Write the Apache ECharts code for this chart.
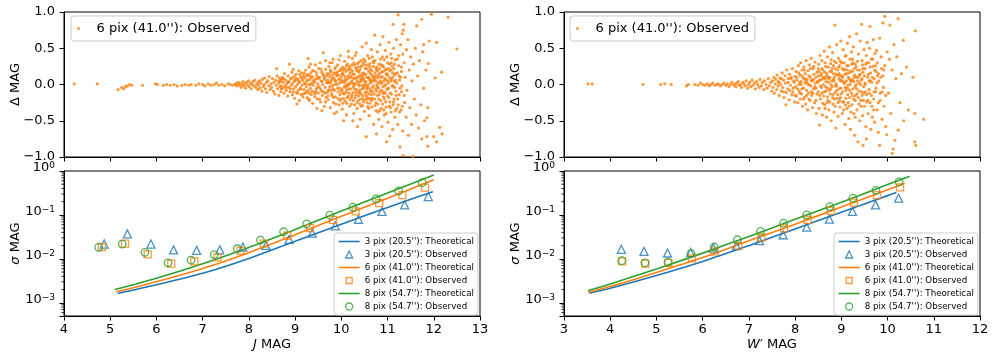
<!DOCTYPE html>
<html>
<head>
<meta charset="utf-8">
<script src="https://cdn.jsdelivr.net/npm/echarts@6/dist/echarts.min.js"></script>
<style>
  html, body { margin: 0; padding: 0; background: #fff; }
  #chart { width: 996px; height: 362px; }
</style>
</head>
<body>
<div id="chart"></div>
<script>
// ---- data ----
const jTicks = [4, 5, 6, 7, 8, 9, 10, 11, 12, 13]
const wTicks = [3, 4, 5, 6, 7, 8, 9, 10, 11, 12]
const deltaTicks = [-1.0, -0.5, 0.0, 0.5, 1.0]
const sigmaRange = [5e-4, 1]
const logMinorTicks = [6e-4, 7e-4, 8e-4, 9e-4,
  2e-3, 3e-3, 4e-3, 5e-3, 6e-3, 7e-3, 8e-3, 9e-3,
  2e-2, 3e-2, 4e-2, 5e-2, 6e-2, 7e-2, 8e-2, 9e-2,
  2e-1, 3e-1, 4e-1, 5e-1, 6e-1, 7e-1, 8e-1, 9e-1]

const apertures = ["3 pix (20.5'')", "6 pix (41.0'')", "8 pix (54.7'')"]

// J band: theoretical curves [mag, sigma]
const jTheo3 = [[5.16, 0.00162], [6, 0.00257], [7, 0.00468], [8, 0.0102], [9, 0.0251], [10, 0.0617], [11, 0.148], [11.98, 0.339]]
const jTheo6 = [[5.13, 0.00178], [6, 0.00302], [7, 0.00603], [8, 0.0138], [9, 0.0355], [10, 0.0933], [11, 0.24], [12, 0.631]]
const jTheo8 = [[5.10, 0.0020], [6, 0.00363], [7, 0.00776], [8, 0.0182], [9, 0.0468], [10, 0.123], [11, 0.316], [12, 0.813]]
// J band: observed scatter per magnitude bin
const jObs3 = [[4.87, 0.0217], [5.37, 0.037], [5.88, 0.0217], [6.37, 0.016], [6.87, 0.0156], [7.37, 0.016], [7.87, 0.0186], [8.37, 0.0203], [8.87, 0.0277], [9.37, 0.0386], [9.87, 0.0566], [10.37, 0.0797], [10.88, 0.12], [11.37, 0.169], [11.88, 0.262]]
const jObs6 = [[4.82, 0.0186], [5.32, 0.0221], [5.81, 0.0127], [6.32, 0.0078], [6.82, 0.0088], [7.32, 0.0108], [7.82, 0.0153], [8.32, 0.0221], [8.83, 0.0336], [9.32, 0.050], [9.82, 0.0775], [10.31, 0.12], [10.82, 0.185], [11.32, 0.281], [11.81, 0.419]]
const jObs8 = [[4.75, 0.0183], [5.26, 0.0217], [5.75, 0.0141], [6.25, 0.0081], [6.75, 0.0094], [7.25, 0.0125], [7.75, 0.017], [8.25, 0.0268], [8.75, 0.0414], [9.25, 0.0628], [9.75, 0.0988], [10.25, 0.15], [10.75, 0.232], [11.24, 0.352], [11.75, 0.543]]

// W' band
const wTheo3 = [[3.55, 0.00166], [4, 0.00214], [5, 0.00417], [6, 0.0087], [7, 0.020], [8, 0.0479], [9, 0.115], [10, 0.275], [10.19, 0.324]]
const wTheo6 = [[3.52, 0.00174], [4, 0.00234], [5, 0.0049], [6, 0.0107], [7, 0.0257], [8, 0.0617], [9, 0.151], [10, 0.372], [10.37, 0.525]]
const wTheo8 = [[3.52, 0.00191], [4, 0.00269], [5, 0.00589], [6, 0.0135], [7, 0.0324], [8, 0.0794], [9, 0.195], [10, 0.490], [10.48, 0.759]]
const wObs3 = [[4.24, 0.0165], [4.73, 0.0148], [5.24, 0.0136], [5.74, 0.014], [6.23, 0.0176], [6.73, 0.0199], [7.23, 0.0259], [7.74, 0.0354], [8.25, 0.0528], [8.74, 0.08], [9.24, 0.12], [9.74, 0.169], [10.24, 0.24]]
const wObs6 = [[4.26, 0.0088], [4.76, 0.0078], [5.26, 0.0081], [5.77, 0.0103], [6.26, 0.0148], [6.77, 0.0199], [7.27, 0.0308], [7.76, 0.0492], [8.27, 0.0774], [8.77, 0.124], [9.27, 0.191], [9.77, 0.281], [10.27, 0.426]]
const wObs8 = [[4.25, 0.0091], [4.75, 0.0081], [5.25, 0.0083], [5.75, 0.0131], [6.25, 0.0186], [6.75, 0.0272], [7.25, 0.042], [7.75, 0.065], [8.25, 0.1], [8.75, 0.155], [9.25, 0.24], [9.75, 0.364], [10.25, 0.563]]

// Delta MAG of single stars, 6 pix aperture, J band [mag, delta]
const jDelta = [
  [4.22, 0.01], [4.72, 0.01], [5.17, -0.07], [5.25, -0.04], [5.29, -0.06], [5.33, -0.03], [5.37, -0.02], [5.42, 0.00], [5.47, -0.01], [5.7, -0.01],
  [5.98, 0.01], [6.02, 0.0], [6.15, -0.01], [6.22, 0.0], [6.3, -0.01], [6.38, 0.0], [6.45, -0.02], [6.55, -0.01], [6.62, 0.0], [6.7, -0.01],
  [6.75, 0.0], [6.85, -0.01], [6.92, 0.01], [7.0, 0.0], [7.05, -0.02], [7.12, 0.01], [7.18, -0.01], [7.25, 0.0], [7.3, 0.02], [7.35, -0.01],
  [7.42, 0.0], [7.48, -0.02], [7.55, 0.01], [7.6, 0.0], [7.65, -0.01], [7.7, 0.0],
  [7.72, 0.01], [7.74, -0.02], [7.76, 0.03], [7.79, -0.01], [7.8, 0.02], [7.83, -0.04], [7.85, 0.0], [7.87, 0.04], [7.89, -0.02], [7.91, 0.01],
  [7.93, -0.05], [7.95, 0.03], [7.97, -0.01], [7.99, 0.05], [8.01, -0.03], [8.03, 0.02], [8.05, -0.06], [8.07, 0.0], [8.09, 0.04], [8.11, -0.02],
  [8.13, 0.06], [8.15, -0.04], [8.17, 0.01], [8.19, -0.07], [8.2, 0.03],
  [8.21, -0.01], [8.23, 0.05], [8.24, -0.05], [8.26, 0.02], [8.28, -0.09], [8.29, 0.07], [8.31, -0.03], [8.33, 0.0], [8.34, 0.09], [8.36, -0.06],
  [8.38, 0.03], [8.39, -0.11], [8.41, 0.05], [8.43, -0.02], [8.44, 0.11], [8.46, -0.07], [8.48, 0.01], [8.49, -0.04], [8.51, 0.08], [8.53, -0.09],
  [8.54, 0.03], [8.56, -0.13], [8.58, 0.06], [8.59, -0.01], [8.6, 0.22], [8.61, 0.12], [8.62, -0.06], [8.64, 0.02], [8.65, -0.15], [8.66, 0.09],
  [8.67, -0.03], [8.68, 0.04], [8.69, -0.1], [8.7, 0.07], [8.7, -0.02],
  [8.72, 0.1], [8.73, -0.05], [8.74, 0.03], [8.76, -0.12], [8.77, 0.15], [8.78, -0.02], [8.8, 0.06], [8.81, -0.08], [8.82, 0.01], [8.84, -0.16],
  [8.85, 0.12], [8.86, -0.04], [8.87, 0.04], [8.88, 0.28], [8.89, -0.1], [8.9, 0.08], [8.92, -0.01], [8.93, 0.17], [8.94, -0.14], [8.95, 0.02],
  [8.97, -0.06], [8.98, 0.11], [8.99, -0.19], [9.0, 0.05], [9.01, -0.03], [9.02, 0.14], [9.03, -0.11], [9.05, 0.0], [9.06, 0.07], [9.07, -0.08],
  [9.08, 0.19], [9.09, -0.22], [9.1, 0.03], [9.11, -0.05], [9.12, 0.1], [9.13, -0.14], [9.14, 0.16], [9.15, -0.01], [9.16, 0.06], [9.17, -0.17],
  [9.18, 0.12], [9.19, -0.07], [9.2, 0.02], [9.04, -0.27], [8.96, 0.21],
  [9.21, 0.09], [9.22, -0.12], [9.23, 0.2], [9.24, -0.03], [9.25, 0.05], [9.26, -0.18], [9.27, 0.14], [9.28, -0.08], [9.29, 0.0], [9.3, 0.24],
  [9.31, -0.22], [9.32, 0.07], [9.33, -0.05], [9.34, 0.16], [9.35, -0.14], [9.36, 0.02], [9.37, 0.11], [9.38, -0.26], [9.39, -0.01], [9.4, 0.19],
  [9.41, -0.1], [9.42, 0.04], [9.43, -0.17], [9.44, 0.27], [9.45, 0.08], [9.46, -0.06], [9.47, 0.13], [9.48, -0.2], [9.49, 0.01], [9.5, -0.12],
  [9.51, 0.22], [9.52, -0.03], [9.53, 0.1], [9.54, 0.3], [9.55, -0.24], [9.56, 0.05], [9.57, -0.09], [9.58, 0.17], [9.59, -0.15], [9.6, 0.0],
  [9.61, 0.44], [9.62, 0.12], [9.63, -0.3], [9.64, 0.07], [9.65, -0.04], [9.66, 0.21], [9.67, -0.18], [9.68, 0.03], [9.69, 0.15], [9.7, -0.11],
  [9.33, 0.28], [9.47, -0.33], [9.58, -0.36], [9.66, 0.33], [9.28, 0.36],
  [9.71, 0.06], [9.72, -0.21], [9.73, 0.25], [9.74, -0.07], [9.75, 0.11], [9.76, -0.32], [9.77, 0.02], [9.78, 0.18], [9.79, -0.13], [9.8, 0.3],
  [9.81, -0.02], [9.82, 0.35], [9.83, -0.25], [9.84, 0.09], [9.85, -0.08], [9.86, 0.22], [9.87, -0.17], [9.88, 0.04], [9.89, 0.14], [9.9, -0.38],
  [9.91, 0.0], [9.92, 0.27], [9.93, -0.1], [9.94, 0.07], [9.95, -0.28], [9.96, 0.19], [9.97, -0.05], [9.98, 0.4], [9.99, 0.1], [10.0, -0.2],
  [10.01, 0.03], [10.02, -0.34], [10.03, 0.24], [10.04, -0.12], [10.05, 0.13], [10.06, -0.03], [10.07, 0.32], [10.08, -0.23], [10.09, 0.06], [10.1, 0.18],
  [10.11, -0.42], [10.12, -0.08], [10.13, 0.28], [10.14, 0.01], [10.15, -0.16], [10.16, 0.38], [10.17, 0.09], [10.18, -0.3], [10.19, 0.16], [10.2, -0.06],
  [9.75, 0.3], [9.85, -0.4], [9.95, 0.34], [10.05, -0.5], [10.15, 0.46], [9.9, 0.12], [10.0, 0.22], [10.1, -0.01], [9.8, -0.15], [10.05, 0.05],
  [9.97, -0.14], [10.18, 0.25], [9.74, 0.15], [10.12, -0.26], [9.88, -0.27],
  [10.21, 0.21], [10.22, -0.27], [10.23, 0.05], [10.24, 0.36], [10.25, -0.11], [10.26, 0.14], [10.27, -0.4], [10.28, 0.0], [10.29, 0.27], [10.3, -0.18],
  [10.31, 0.09], [10.32, 0.44], [10.33, -0.07], [10.34, -0.33], [10.35, 0.19], [10.36, 0.03], [10.37, -0.22], [10.38, 0.31], [10.39, -0.02], [10.4, 0.12],
  [10.41, -0.48], [10.42, 0.24], [10.43, -0.13], [10.44, 0.06], [10.45, 0.52], [10.46, -0.29], [10.47, 0.16], [10.48, -0.05], [10.49, 0.35], [10.5, -0.37],
  [10.51, 0.01], [10.52, 0.22], [10.53, -0.15], [10.54, 0.57], [10.54, -0.72], [10.55, 0.1], [10.56, -0.25], [10.57, 0.4], [10.58, -0.04], [10.59, 0.18],
  [10.6, -0.43], [10.61, 0.07], [10.62, 0.29], [10.63, -0.19], [10.64, 0.02], [10.65, 0.48], [10.66, -0.31], [10.67, 0.13], [10.68, -0.09], [10.69, 0.25],
  [10.7, -0.55], [10.22, 0.1], [10.28, -0.06], [10.33, 0.2], [10.38, -0.12], [10.43, 0.33], [10.48, 0.08], [10.53, 0.04], [10.58, -0.2], [10.63, 0.15],
  [10.68, 0.05], [10.25, -0.5], [10.35, -0.58], [10.45, -0.01], [10.55, -0.1], [10.65, -0.14], [10.3, 0.4], [10.4, -0.27], [10.5, 0.27], [10.6, 0.36],
  [10.27, 0.3], [10.37, 0.11], [10.47, -0.2], [10.57, -0.3], [10.67, 0.38],
  [10.71, 0.1], [10.72, -0.2], [10.72, 0.68], [10.73, 0.33], [10.74, -0.06], [10.75, -0.36], [10.76, 0.2], [10.76, -0.68], [10.77, 0.0], [10.78, 0.45],
  [10.79, -0.27], [10.8, 0.12], [10.81, -0.48], [10.82, 0.28], [10.83, -0.1], [10.84, 0.55], [10.85, 0.05], [10.86, -0.33], [10.87, 0.17], [10.88, -0.58],
  [10.89, 0.38], [10.9, 0.66], [10.9, -0.03], [10.91, -0.17], [10.92, 0.24], [10.93, -0.42], [10.94, 0.08], [10.95, 0.47], [10.96, -0.24], [10.97, 0.14],
  [10.98, 0.38], [10.98, -0.79], [10.99, -0.07], [11.0, 0.3], [11.01, -0.52], [11.02, 0.02], [11.03, 0.58], [11.04, -0.3], [11.05, -0.71], [11.05, 0.19],
  [11.06, -0.12], [11.07, 0.42], [11.08, -0.38], [11.09, 0.07], [11.1, 0.25], [11.11, -0.62], [11.12, 0.83], [11.12, -0.02], [11.13, 0.5], [11.14, -0.2],
  [11.15, 0.13], [11.16, -0.45], [11.17, 0.34], [11.18, -0.09], [11.19, 0.62], [11.2, -0.33], [10.78, -0.15], [10.85, 0.35], [10.92, -0.35], [11.0, 0.05],
  [11.08, 0.2], [10.8, -0.05], [10.95, -0.12], [11.15, 0.04], [10.75, 0.22],
  [11.21, 0.16], [11.22, -0.55], [11.23, 0.96], [11.24, 0.4], [11.25, -0.14], [11.26, 0.06], [11.27, -0.86], [11.28, 0.55], [11.29, -0.35], [11.3, 0.24],
  [11.31, -0.02], [11.32, 0.7], [11.33, -0.64], [11.34, 0.75], [11.34, -0.98], [11.35, 0.83], [11.36, 0.3], [11.37, -0.25], [11.38, 0.1], [11.4, -0.45],
  [11.41, 0.48], [11.42, -0.08], [11.44, 0.62], [11.45, -0.7], [11.47, 0.2], [11.48, -0.32], [11.5, 0.38], [11.52, -0.55], [11.53, 0.05], [11.55, -0.99],
  [11.56, 0.28], [11.58, -0.2], [11.6, 0.5], [11.62, -0.42], [11.63, 0.81], [11.65, 0.12], [11.67, -0.6], [11.69, 0.33],
  [11.72, -0.28], [11.74, 0.9], [11.74, -0.75], [11.76, 0.45], [11.78, -0.05], [11.8, -0.5], [11.83, 0.2], [11.85, -0.46], [11.85, -0.72], [11.87, -0.32],
  [11.87, -0.85], [11.88, 0.29], [11.9, 0.6], [11.95, 0.97], [12.0, -0.72], [12.03, 0.09], [12.06, 0.58], [12.06, -0.79], [12.13, -0.59], [12.17, 0.17],
  [12.18, -0.68], [12.31, 0.93], [12.5, 0.49], [11.78, 0.55],
  // dense core
  [9.91, 0.17], [9.93, -0.19], [9.96, 0.02], [9.99, -0.09], [10.01, 0.14], [10.03, -0.26], [10.04, 0.2], [10.06, -0.13], [10.08, 0.1], [10.09, -0.04],
  [10.11, 0.26], [10.13, -0.18], [10.14, 0.12], [10.16, -0.06], [10.17, 0.22], [10.19, -0.21], [10.21, 0.03], [10.23, -0.15], [10.24, 0.18], [10.26, -0.03],
  [10.27, 0.08], [10.29, -0.28], [10.31, 0.23], [10.32, -0.1], [10.34, 0.05], [10.35, 0.29], [10.37, -0.16], [10.38, 0.17], [10.4, -0.08], [10.41, 0.04],
  [10.42, -0.2], [10.44, 0.26], [10.45, -0.06], [10.46, 0.11], [10.48, -0.24], [10.49, 0.15], [10.51, -0.11], [10.52, 0.32], [10.54, -0.02], [10.55, 0.22],
  [10.56, -0.18], [10.58, 0.09], [10.59, -0.33], [10.61, 0.25], [10.62, -0.07], [10.63, 0.04], [10.65, -0.22], [10.66, 0.19], [10.67, -0.04], [10.69, 0.1],
  [10.7, 0.3], [10.71, -0.13], [10.73, 0.16], [10.74, 0.05], [10.75, -0.25], [10.77, 0.24], [10.78, -0.03], [10.79, 0.09], [10.81, -0.2], [10.82, 0.15],
  [10.83, -0.36], [10.84, 0.02], [10.86, 0.27], [10.87, -0.08], [10.88, 0.11], [10.89, -0.27], [10.91, 0.18], [10.92, -0.1], [10.93, 0.34], [10.94, -0.02],
  [10.96, 0.07], [10.97, -0.31], [10.98, 0.21], [11.0, -0.16], [11.01, 0.12], [11.02, -0.05], [11.04, 0.28], [11.05, -0.24], [11.07, 0.05], [11.08, -0.13],
  [11.09, 0.36], [11.11, 0.1], [11.12, -0.28], [11.14, 0.22], [11.15, -0.04], [11.17, -0.36], [11.18, 0.15], [11.2, 0.02], [11.22, -0.2], [11.24, 0.26],
  [11.26, -0.38], [11.28, 0.1], [11.3, -0.1], [11.33, 0.42], [11.36, -0.15], [9.5, 0.08], [9.55, -0.06], [9.6, 0.14], [9.65, -0.12], [9.7, 0.02],
  [9.45, -0.1], [9.4, 0.06], [9.35, 0.1], [9.3, -0.12], [9.25, 0.12], [9.8, 0.08], [9.85, 0.16], [9.75, -0.03],
  [10.0, 0.06], [10.02, -0.07], [10.03, 0.16], [10.05, -0.19], [10.07, 0.03], [10.08, 0.22], [10.1, -0.11], [10.12, 0.07], [10.13, -0.02], [10.15, 0.2],
  [10.17, -0.12], [10.18, 0.0], [10.2, 0.12], [10.22, -0.18], [10.23, 0.27], [10.25, 0.02], [10.26, -0.22], [10.28, 0.14], [10.3, 0.01], [10.31, -0.14],
  [10.33, 0.09], [10.34, -0.25], [10.36, 0.24], [10.37, 0.0], [10.39, -0.1], [10.4, 0.2], [10.42, 0.08], [10.43, -0.3], [10.45, 0.14], [10.46, -0.16],
  [10.47, 0.3], [10.49, -0.03], [10.5, 0.05], [10.52, -0.21], [10.53, 0.14], [10.55, -0.06], [10.56, 0.27], [10.58, 0.0], [10.59, -0.13], [10.6, 0.1],
  [10.62, -0.26], [10.63, 0.21], [10.64, -0.1], [10.66, 0.06], [10.67, -0.19], [10.69, 0.32], [10.7, -0.02], [10.72, 0.07], [10.73, -0.29], [10.75, 0.12],
  [10.76, -0.09], [10.78, 0.19], [10.79, -0.38], [10.8, 0.03], [10.82, -0.14], [10.83, 0.22], [10.85, -0.22], [10.86, 0.1], [10.88, 0.02], [10.89, 0.26],
  [10.9, -0.12], [10.92, 0.05], [10.93, -0.2], [10.95, 0.2], [10.96, 0.0], [10.97, -0.4], [10.99, 0.15], [11.0, -0.06], [11.02, 0.22], [11.03, -0.18],
  [11.05, 0.09], [11.06, -0.32], [11.08, 0.3], [11.1, -0.02], [11.11, 0.16], [11.13, -0.24], [11.15, 0.28], [11.17, 0.06], [11.19, -0.15], [11.21, 0.35],
  [11.23, -0.28], [11.25, 0.12], [11.27, -0.05], [11.3, 0.18], [11.32, -0.3], [9.92, -0.05], [9.94, 0.13], [9.97, -0.22], [9.98, 0.2], [9.86, 0.06],
  [9.83, -0.06], [9.78, 0.05], [9.72, -0.08],
  [9.02, 0.08], [9.05, -0.12], [9.08, 0.04], [9.1, 0.14], [9.12, -0.06], [9.15, 0.09], [9.17, -0.13], [9.2, 0.16], [9.22, 0.01], [9.24, -0.1],
  [9.27, 0.06], [9.29, -0.2], [9.31, 0.12], [9.33, 0.0], [9.36, -0.09], [9.38, 0.19], [9.41, 0.03], [9.43, -0.13], [9.46, 0.17], [9.48, -0.04],
  [9.51, 0.1], [9.53, -0.2], [9.56, 0.21], [9.58, 0.04], [9.61, -0.1], [9.63, 0.09], [9.66, -0.24], [9.68, 0.12], [9.71, -0.16], [9.73, 0.03],
  [9.76, 0.2], [9.78, -0.08], [9.81, 0.13], [9.83, -0.18], [9.86, 0.0], [9.88, 0.24], [8.9, -0.06], [8.93, 0.09], [8.96, -0.1], [8.99, 0.06],
  [8.85, 0.03], [8.8, -0.04], [8.75, 0.08], [8.7, -0.06], [8.65, 0.05]
]

// Delta MAG, W' band [mag, delta]
const wDelta = [
  [3.52, 0.01], [3.61, 0.01], [4.71, 0.0], [5.09, 0.0], [5.18, 0.01], [5.32, 0.0], [5.65, -0.02], [5.69, 0.0], [5.83, 0.0], [5.9, -0.01],
  [5.95, 0.02], [6.0, 0.0], [6.05, -0.01], [6.1, 0.01], [6.14, -0.02], [6.18, 0.0], [6.22, 0.02], [6.27, -0.01], [6.3, 0.0], [6.34, 0.01],
  [6.38, -0.02], [6.42, 0.0], [6.46, 0.02], [6.5, -0.01], [6.53, 0.01], [6.57, -0.03], [6.6, 0.0], [6.63, 0.03], [6.67, -0.01], [6.7, 0.01],
  [6.72, -0.03], [6.74, 0.02], [6.77, 0.04], [6.79, -0.01], [6.82, 0.0], [6.84, -0.04], [6.87, 0.03], [6.89, 0.01], [6.92, -0.02], [6.94, 0.05],
  [6.97, -0.05], [6.99, 0.0], [7.02, 0.03], [7.04, -0.03], [7.07, 0.06], [7.09, -0.01], [7.12, 0.02], [7.14, -0.06], [7.17, 0.04], [7.19, 0.0],
  [7.22, -0.04], [7.24, 0.07], [7.27, -0.02], [7.29, 0.03], [7.32, -0.07], [7.34, 0.05], [7.37, 0.0], [7.39, -0.05], [7.42, 0.08], [7.44, -0.02],
  [7.47, 0.03], [7.49, -0.09],
  [7.51, 0.05], [7.52, -0.04], [7.54, 0.1], [7.55, -0.12], [7.57, 0.01], [7.58, 0.07], [7.6, -0.07], [7.61, 0.13], [7.63, -0.02], [7.64, 0.04],
  [7.66, -0.15], [7.67, 0.09], [7.69, 0.0], [7.7, -0.09], [7.72, 0.16], [7.73, -0.04], [7.75, 0.06], [7.76, -0.18], [7.78, 0.12], [7.79, 0.02],
  [7.81, -0.11], [7.82, 0.2], [7.84, -0.06], [7.85, 0.03], [7.87, -0.21], [7.88, 0.14], [7.9, -0.01], [7.91, 0.08], [7.93, -0.14], [7.94, 0.22],
  [7.96, -0.05], [7.97, 0.05], [7.99, -0.24], [8.0, 0.11], [7.8, -0.28],
  [8.01, -0.03], [8.02, 0.18], [8.03, -0.16], [8.04, 0.06], [8.06, -0.25], [8.07, 0.26], [8.08, 0.0], [8.09, -0.09], [8.1, 0.13], [8.11, -0.2],
  [8.12, 0.3], [8.13, 0.04], [8.14, -0.13], [8.15, 0.2], [8.16, -0.3], [8.17, 0.09], [8.18, -0.05], [8.19, 0.24], [8.2, -0.18], [8.21, 0.02],
  [8.22, 0.15], [8.23, -0.27], [8.24, 0.33], [8.25, -0.08], [8.26, 0.07], [8.27, -0.35], [8.28, 0.19], [8.29, -0.12], [8.3, 0.0], [8.31, 0.27],
  [8.32, -0.22], [8.33, 0.1], [8.34, -0.02], [8.35, 0.36], [8.36, -0.15], [8.37, 0.05], [8.38, -0.32], [8.39, 0.22], [8.4, -0.06], [8.41, 0.14],
  [8.42, -0.25], [8.43, 0.31], [8.44, 0.02], [8.46, -0.4], [8.48, 0.17],
  [8.5, -0.1], [8.51, 0.28], [8.52, -0.33], [8.53, -0.56], [8.53, 0.06], [8.54, 0.4], [8.55, -0.2], [8.56, 0.12], [8.57, -0.04], [8.58, 0.33],
  [8.59, -0.42], [8.6, 0.2], [8.61, 0.0], [8.62, -0.16], [8.63, 0.46], [8.64, -0.28], [8.65, 0.08], [8.66, 0.25], [8.67, -0.09], [8.68, -0.45],
  [8.69, 0.15], [8.7, 0.38], [8.71, -0.22], [8.72, 0.03], [8.73, -0.35], [8.74, 0.52], [8.75, 0.1], [8.76, -0.13], [8.77, 0.29], [8.78, -0.5],
  [8.79, 0.18], [8.8, -0.03], [8.81, 0.44], [8.82, -0.27], [8.83, 0.07], [8.84, -0.38], [8.85, 0.32], [8.86, 0.82], [8.86, -0.11], [8.87, 0.22],
  [8.88, -0.6], [8.89, 0.01], [8.9, 0.55], [8.91, -0.19], [8.92, 0.13], [8.93, -0.44], [8.94, 0.36], [8.95, -0.06], [8.96, 0.26], [8.97, -0.31],
  [8.98, 0.05], [8.99, 0.6], [8.57, 0.15], [8.7, -0.05], [8.84, 0.05], [8.95, 0.15], [8.65, -0.33], [8.78, 0.34],
  [9.0, -0.13], [9.01, 0.3], [9.02, -0.4], [9.03, 0.1], [9.04, 0.48], [9.05, -0.24], [9.06, 0.02], [9.07, 0.21], [9.08, -0.55], [9.09, 0.39],
  [9.1, -0.08], [9.11, 0.15], [9.12, -0.33], [9.13, 0.57], [9.14, -0.01], [9.15, 0.26], [9.16, -0.47], [9.17, 0.08], [9.18, 0.66], [9.18, -0.18],
  [9.19, 0.35], [9.2, -0.62], [9.21, 0.04], [9.22, 0.45], [9.23, -0.28], [9.24, 0.18], [9.25, -0.06], [9.26, 0.52], [9.27, -0.4], [9.28, 0.11],
  [9.29, -0.7], [9.3, 0.28], [9.31, -0.15], [9.32, 0.0], [9.33, 0.7], [9.34, -0.35], [9.35, 0.2], [9.36, -0.79], [9.37, 0.42], [9.38, -0.09],
  [9.39, 0.13], [9.4, -0.5], [9.41, 0.6], [9.42, -0.22], [9.43, 0.06], [9.44, 0.83], [9.45, 0.33], [9.46, -0.43], [9.47, -0.84], [9.47, 0.17],
  [9.48, -0.03], [9.49, 0.48], [9.05, 0.2], [9.15, -0.25], [9.25, 0.3], [9.35, 0.05], [9.45, -0.15], [9.1, 0.4], [9.3, -0.45],
  [9.5, -0.3], [9.51, 0.22], [9.52, 0.0], [9.53, -0.58], [9.54, 0.4], [9.54, -0.75], [9.55, -0.14], [9.56, 0.58], [9.57, 0.1], [9.58, -0.4],
  [9.59, 0.3], [9.6, -0.07], [9.61, 0.5], [9.62, 0.8], [9.62, -0.25], [9.63, 0.16], [9.64, -0.62], [9.65, 0.35], [9.66, 0.03], [9.67, -0.45],
  [9.68, 0.25], [9.69, 0.62], [9.7, -0.2], [9.71, 0.08], [9.72, -0.52], [9.73, 0.43], [9.74, -0.1], [9.75, 0.18], [9.76, 0.47], [9.77, -0.35],
  [9.78, 0.3], [9.8, -0.66], [9.81, 0.05], [9.83, 0.64], [9.83, -0.84], [9.84, -0.22], [9.86, 0.38], [9.88, -0.48], [9.9, 0.85], [9.9, 0.12],
  [9.92, -0.3], [9.94, 0.94], [9.94, 0.26], [9.96, -0.58], [9.98, -0.69], [9.99, 0.45],
  [10.02, -0.12], [10.04, 0.35], [10.05, 0.82], [10.07, -0.4], [10.1, -0.95], [10.1, 0.2], [10.12, -0.89], [10.14, 0.55], [10.16, -0.77], [10.18, 0.08],
  [10.2, 0.38], [10.23, 0.91], [10.23, -0.63], [10.27, -0.25], [10.3, 0.15], [10.34, 0.61], [10.41, 0.24], [10.45, -0.35], [10.55, 0.1], [10.6, 0.74],
  [10.59, -0.4], [10.59, -0.79], [10.61, -0.84], [10.78, -0.48], [10.35, -0.5],
  // dense core
  [8.45, 0.1], [8.47, -0.13], [8.49, 0.03], [8.52, 0.18], [8.55, 0.06], [8.58, -0.12], [8.6, -0.26], [8.62, 0.1], [8.64, 0.17], [8.66, -0.03],
  [8.68, 0.12], [8.7, -0.17], [8.72, 0.24], [8.73, 0.08], [8.75, -0.24], [8.77, -0.06], [8.79, 0.05], [8.8, 0.22], [8.82, -0.14], [8.83, 0.15],
  [8.85, -0.2], [8.87, -0.02], [8.89, 0.3], [8.9, -0.08], [8.92, 0.2], [8.93, -0.25], [8.95, 0.08], [8.97, 0.12], [8.98, -0.18], [9.0, 0.06],
  [9.02, 0.22], [9.03, -0.1], [9.05, -0.35], [9.07, 0.02], [9.08, 0.14], [9.1, -0.19], [9.12, 0.26], [9.13, -0.05], [9.15, 0.1], [9.17, -0.3],
  [9.19, 0.0], [9.2, 0.18], [9.22, -0.12], [9.24, 0.35], [9.25, 0.07], [9.27, -0.2], [9.29, 0.13], [9.3, -0.03], [9.32, 0.24], [9.34, -0.13],
  [9.36, 0.1], [9.38, -0.27], [9.4, 0.2], [9.42, 0.0], [9.44, -0.1], [9.46, 0.27], [9.48, -0.22], [9.5, 0.12], [9.52, -0.1], [9.55, 0.3],
  [9.57, -0.22], [9.6, 0.05], [9.62, 0.24], [9.65, -0.15], [9.67, 0.1], [9.7, -0.35], [9.72, 0.2], [9.75, -0.05], [9.78, 0.12], [9.8, -0.25],
  [9.85, 0.1], [9.88, -0.1], [9.92, 0.2], [9.96, -0.15], [8.35, -0.1], [8.3, 0.12], [8.25, 0.03], [8.2, 0.08], [8.15, -0.06], [8.1, 0.03],
  [8.55, -0.02], [8.58, 0.22], [8.6, 0.08], [8.63, -0.1], [8.65, 0.3], [8.67, 0.04], [8.69, -0.25], [8.71, 0.1], [8.74, -0.08], [8.76, 0.18],
  [8.78, 0.0], [8.81, -0.18], [8.83, 0.26], [8.85, 0.1], [8.87, -0.3], [8.88, 0.14], [8.9, -0.02], [8.92, -0.14], [8.94, 0.24], [8.96, -0.22],
  [8.98, 0.32], [8.99, -0.05], [9.01, 0.12], [9.03, -0.24], [9.04, 0.04], [9.06, 0.3], [9.08, -0.04], [9.09, -0.28], [9.11, 0.05], [9.13, 0.2],
  [9.14, -0.14], [9.16, 0.16], [9.18, -0.08], [9.2, 0.06], [9.21, -0.38], [9.23, 0.28], [9.25, -0.16], [9.27, 0.04], [9.28, 0.22], [9.3, -0.22],
  [9.32, 0.1], [9.33, -0.06], [9.35, 0.32], [9.37, -0.18], [9.39, 0.02], [9.41, 0.14], [9.43, -0.3], [9.45, 0.08], [9.47, 0.22], [9.49, -0.12],
  [9.51, 0.02], [9.53, 0.28], [9.55, -0.24], [9.58, 0.14], [9.6, -0.12], [9.63, 0.05], [9.66, -0.3], [9.68, 0.35], [9.71, -0.1], [9.74, 0.26],
  [9.77, 0.02], [9.8, 0.15], [9.84, -0.12], [9.87, 0.22], [9.91, -0.04], [8.4, 0.07], [8.45, -0.05], [8.5, 0.12],
  [7.92, 0.1], [7.95, -0.1], [7.98, 0.03], [8.0, -0.15], [8.03, 0.1], [8.05, -0.06], [8.08, 0.16], [8.1, -0.12], [8.13, 0.0], [8.15, 0.12],
  [8.18, -0.2], [8.2, 0.2], [8.23, 0.06], [8.25, -0.15], [8.28, 0.0], [8.3, -0.2], [8.33, 0.22], [8.35, 0.06], [8.38, -0.12], [8.4, 0.25],
  [8.43, -0.03], [8.45, -0.22], [8.48, 0.04], [8.5, 0.22], [8.53, -0.15], [7.85, 0.08], [7.88, -0.08], [7.75, -0.1], [7.7, 0.08], [7.65, 0.03]
]

// ---- styling ----
const FONT = 'DejaVu Sans'
const BLUE = '#1f77b4'
const ORANGE = '#ff7f0e'
const GREEN = '#2ca02c'
const BLACK = '#000'
// legend handles: the two leading moveTo points pin the icon box to 21x7 so the marker keeps its shape
const LINE_ICON = 'path://M0,0H21V1.6H0Z'
const TRI_ICON = 'path://M0,0M21,7M7,7L10.5,0L14,7Z'
const RECT_ICON = 'path://M0,0M21,7M7.5,0.5H13.5V6.5H7.5Z'

const panels = [
  { left: 64, top: 12 },   // top-left: J delta
  { left: 564, top: 12 },  // top-right: W' delta
  { left: 64, top: 171 },  // bottom-left: J sigma
  { left: 564, top: 171 }  // bottom-right: W' sigma
]

const chart = echarts.init(document.getElementById('chart'), null, { renderer: 'canvas' })

const axisLineStyle = { color: BLACK, width: 1 }
const nameStyle = {
  color: BLACK, fontSize: 13, fontFamily: FONT,
  rich: { i: { fontStyle: 'italic', fontSize: 13, fontFamily: FONT, color: BLACK } }
}

function magAxis(gridIndex, ticks, name) {
  return {
    type: 'value', gridIndex,
    min: ticks[0], max: ticks[ticks.length - 1], interval: 1,
    axisLine: { show: true, onZero: false, lineStyle: axisLineStyle },
    axisTick: { show: true, inside: false, length: 4.5, lineStyle: axisLineStyle },
    axisLabel: { show: !!name, margin: 7, color: BLACK, fontSize: 13, fontFamily: FONT },
    splitLine: { show: false },
    name: name || '',
    nameLocation: 'middle', nameGap: 22, nameMoveOverlap: false,
    nameTextStyle: nameStyle
  }
}

function deltaAxis(gridIndex) {
  return {
    type: 'value', gridIndex,
    min: deltaTicks[0], max: deltaTicks[deltaTicks.length - 1], interval: 0.5,
    axisLine: { show: true, onZero: false, lineStyle: axisLineStyle },
    axisTick: { show: true, inside: false, length: 4.5, lineStyle: axisLineStyle },
    axisLabel: {
      margin: 9, color: BLACK, fontSize: 13, fontFamily: FONT,
      formatter: v => v.toFixed(1).replace('-', '\u2212')
    },
    splitLine: { show: false },
    name: 'Δ MAG', nameLocation: 'middle', nameGap: 42, nameMoveOverlap: false,
    nameTextStyle: nameStyle
  }
}

function sigmaAxis(gridIndex) {
  return {
    type: 'log', logBase: 10, gridIndex,
    min: sigmaRange[0], max: sigmaRange[1],
    axisLine: { show: true, onZero: false, lineStyle: axisLineStyle },
    axisTick: { show: true, inside: false, length: 4.5, lineStyle: axisLineStyle },
    axisLabel: {
      margin: 9, color: BLACK, fontFamily: FONT, padding: [0, 0, 6, 0],
      formatter: v => {
        const lg = Math.log10(v)
        const e = Math.round(lg)
        if (Math.abs(lg - e) > 1e-6) return ''
        return '{b|10}{s|' + (e < 0 ? '\u2212' + (-e) : e) + '}'
      },
      rich: {
        b: { fontSize: 13, fontFamily: FONT, color: BLACK, lineHeight: 13, verticalAlign: 'bottom' },
        s: { fontSize: 9, fontFamily: FONT, color: BLACK, lineHeight: 10, verticalAlign: 'top' }
      }
    },
    splitLine: { show: false },
    name: '{i|σ} MAG', nameLocation: 'middle', nameGap: 42, nameMoveOverlap: false,
    nameTextStyle: nameStyle
  }
}

// log-axis minor ticks, drawn through the axis scale at the left spine
function minorTicks(axisIndex, xMin) {
  return {
    type: 'custom', xAxisIndex: axisIndex, yAxisIndex: axisIndex,
    silent: true, clip: false, z: 5,
    data: logMinorTicks.map(v => [xMin, v]),
    renderItem: (params, api) => {
      const p = api.coord([api.value(0), api.value(1)])
      return {
        type: 'line',
        shape: { x1: p[0] - 2.6, y1: p[1], x2: p[0], y2: p[1] },
        style: { stroke: BLACK, lineWidth: 0.8 }
      }
    }
  }
}

function theoLine(name, data, color, axisIndex) {
  return {
    name, type: 'line', data, xAxisIndex: axisIndex, yAxisIndex: axisIndex,
    symbol: 'none', smooth: 0.3, lineStyle: { color, width: 1.6 }, itemStyle: { color },
    z: 3
  }
}

function obsMarks(name, data, color, symbol, size, axisIndex) {
  return {
    name, type: 'scatter', data, xAxisIndex: axisIndex, yAxisIndex: axisIndex,
    symbol, symbolSize: size,
    itemStyle: { color: 'rgba(0,0,0,0)', borderColor: color, borderWidth: 1.3 },
    z: 4
  }
}

function sigmaSeries(axisIndex, t3, o3, t6, o6, t8, o8) {
  return [
    theoLine(apertures[0] + ': Theoretical', t3, BLUE, axisIndex),
    obsMarks(apertures[0] + ': Observed', o3, BLUE, 'triangle', 8, axisIndex),
    theoLine(apertures[1] + ': Theoretical', t6, ORANGE, axisIndex),
    obsMarks(apertures[1] + ': Observed', o6, ORANGE, 'rect', 7, axisIndex),
    theoLine(apertures[2] + ': Theoretical', t8, GREEN, axisIndex),
    obsMarks(apertures[2] + ': Observed', o8, GREEN, 'circle', 7.5, axisIndex)
  ]
}

function deltaSeries(axisIndex, data) {
  return {
    name: apertures[1] + ': Observed', type: 'scatter', data,
    xAxisIndex: axisIndex, yAxisIndex: axisIndex,
    symbol: 'circle', symbolSize: 3.2,
    itemStyle: { color: ORANGE, borderWidth: 0 }
  }
}

const legendBase = {
  orient: 'vertical',
  backgroundColor: 'rgba(255,255,255,0.8)',
  borderColor: '#cccccc', borderWidth: 1, borderRadius: 3,
  selectedMode: false
}

function deltaLegend(left) {
  return Object.assign({}, legendBase, {
    left, top: 16, padding: [6, 6, 6, 6],
    itemWidth: 26, itemHeight: 3,
    textStyle: { color: BLACK, fontSize: 13, fontFamily: FONT },
    data: [{ name: apertures[1] + ': Observed', icon: 'circle', itemStyle: { color: ORANGE, borderWidth: 0 } }]
  })
}

function sigmaLegend(left) {
  const lineItem = (name, color) => ({ name, icon: LINE_ICON, itemStyle: { color, borderWidth: 0 } })
  const markItem = (name, icon, color) => ({
    name, icon,
    itemStyle: { color: 'rgba(0,0,0,0)', borderColor: color, borderWidth: 1.3 }
  })
  return Object.assign({}, legendBase, {
    left, top: 233, padding: [4, 4, 4, 4],
    itemWidth: 21, itemHeight: 7, itemGap: 4,
    textStyle: { color: BLACK, fontSize: 8.7, fontFamily: FONT },
    data: [
      lineItem(apertures[0] + ': Theoretical', BLUE), markItem(apertures[0] + ': Observed', TRI_ICON, BLUE),
      lineItem(apertures[1] + ': Theoretical', ORANGE), markItem(apertures[1] + ': Observed', RECT_ICON, ORANGE),
      lineItem(apertures[2] + ': Theoretical', GREEN), markItem(apertures[2] + ': Observed', 'circle', GREEN)
    ]
  })
}

chart.setOption({
  animation: false,
  backgroundColor: '#fff',
  grid: panels.map(p => ({
    left: p.left, top: p.top, width: 416, height: 145,
    show: true, borderColor: BLACK, borderWidth: 1, backgroundColor: 'transparent',
    containLabel: false, outerBoundsMode: 'none'
  })),
  xAxis: [
    magAxis(0, jTicks),
    magAxis(1, wTicks),
    magAxis(2, jTicks, '{i|J} MAG'),
    magAxis(3, wTicks, '{i|W}′ MAG')
  ],
  yAxis: [deltaAxis(0), deltaAxis(1), sigmaAxis(2), sigmaAxis(3)],
  legend: [deltaLegend(71), deltaLegend(570), sigmaLegend(334), sigmaLegend(834)],
  series: [].concat(
    sigmaSeries(2, jTheo3, jObs3, jTheo6, jObs6, jTheo8, jObs8),
    sigmaSeries(3, wTheo3, wObs3, wTheo6, wObs6, wTheo8, wObs8),
    [deltaSeries(0, jDelta), deltaSeries(1, wDelta), minorTicks(2, jTicks[0]), minorTicks(3, wTicks[0])]
  )
})
</script>
</body>
</html>
